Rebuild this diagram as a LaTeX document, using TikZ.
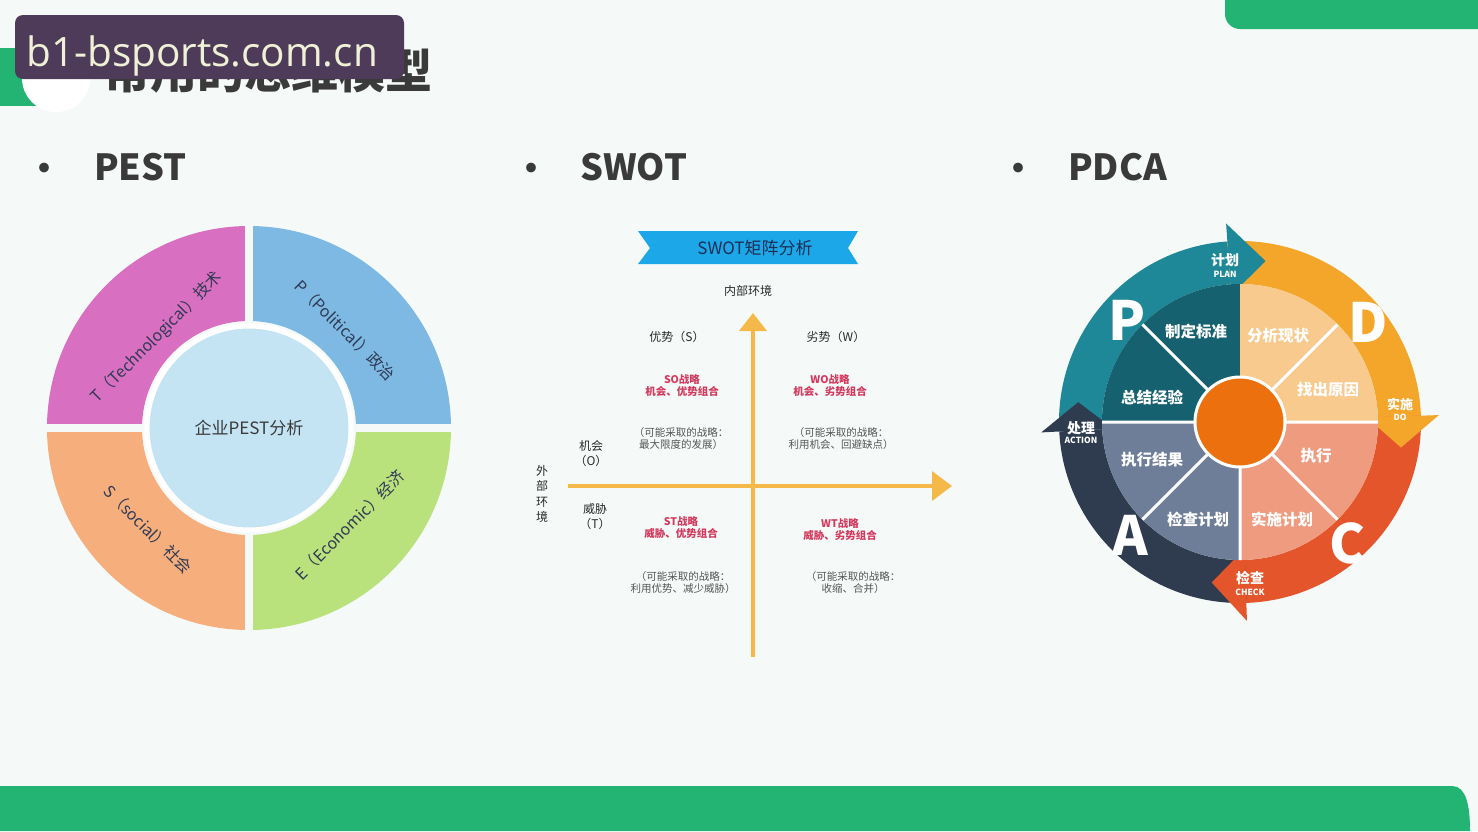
\documentclass[tikz,border=0pt]{standalone}
\usepackage{fontspec}
\setmainfont{Noto Sans CJK SC}
\newfontfamily\wmfont{Open Sans}
\usetikzlibrary{arrows.meta}
\newcommand\fsz[1]{\fontsize{#1}{#1}\selectfont}
\definecolor{bgcol}{HTML}{F5FAF9}
\definecolor{brand}{HTML}{23B473}
\definecolor{wmbg}{HTML}{4E3A59}
\definecolor{wmtx}{HTML}{EFF1D6}
\definecolor{titlecol}{HTML}{3A3A3A}
\definecolor{tcol}{HTML}{D96FC0}
\definecolor{pcol}{HTML}{7EB9E3}
\definecolor{scol}{HTML}{F6AE7D}
\definecolor{ecol}{HTML}{BAE27C}
\definecolor{ccol}{HTML}{C4E3F3}
\definecolor{pesttx}{HTML}{2F3A55}
\definecolor{banner}{HTML}{1CA7E8}
\definecolor{bannertx}{HTML}{1B2F55}
\definecolor{axis}{HTML}{F5B94A}
\definecolor{swred}{HTML}{D43A5E}
\definecolor{swgrey}{HTML}{555555}
\definecolor{swdark}{HTML}{2A2A2A}
\definecolor{pband}{HTML}{1F8898}
\definecolor{dband}{HTML}{F4A62B}
\definecolor{cband}{HTML}{E4552C}
\definecolor{aband}{HTML}{2F3B4E}
\definecolor{ptl}{HTML}{16616F}
\definecolor{ptr}{HTML}{F8CA8E}
\definecolor{pbr}{HTML}{EE9B80}
\definecolor{pbl}{HTML}{6F7E98}
\definecolor{pcore}{HTML}{EC700D}
\begin{document}
\begin{tikzpicture}[x=1pt,y=1pt,
  heading/.style={font=\bfseries\fsz{36}, text=titlecol, anchor=west, inner sep=0},
  bulletdot/.style={font=\fsz{46}, text=titlecol, inner sep=0},
  pesttext/.style={font=\fsz{16}, text=pesttx, inner sep=0},
  swtext/.style={font=\fsz{12}, text=swdark, inner sep=0, align=center},
  swvert/.style={font={\fontsize{12}{15.5}\selectfont}, text=swdark, inner sep=0, align=center},
  swstrat/.style={font=\bfseries\fsz{10.5}, text=swred, inner sep=0, align=center},
  swnote/.style={font=\fsz{10.5}, text=swgrey, inner sep=0, align=center},
  pietext/.style={font=\bfseries\fsz{15.5}, text=white, inner sep=0},
  bigletter/.style={font=\bfseries\fsz{54}, text=white, inner sep=0},
  arrlab/.style={font=\bfseries\fsz{14}, text=white, inner sep=0},
  arrsub/.style={font=\bfseries\fsz{8.5}, text=white, inner sep=0}]
\useasboundingbox (0,0) rectangle (1478,-831);
\fill[bgcol] (0,0) rectangle (1478,-831);
% top right bar
\fill[brand] (1478,0) -- (1225,0) -- (1225,-14) arc[start angle=180, end angle=270, radius=15] -- (1478,-29) -- cycle;
% bottom bar
\fill[brand] (0,-786) -- (1452,-786) .. controls (1466,-786) and (1470,-805) .. (1470,-831) -- (0,-831) -- cycle;
% title decoration
\fill[brand] (0,-48) rectangle (40,-106);
\fill[white] (56,-78) circle[radius=34];
\node[font=\bfseries\fsz{47}, text=titlecol, anchor=west, inner sep=0] (title) at (103,-71) {常用的思维模型};
\node[fill=wmbg, rounded corners=8, minimum width=389, minimum height=64, inner sep=0] (wm) at (209.5,-47) {};
\node[text=wmtx, inner sep=0, font=\wmfont\fsz{40.5}, anchor=base west] (wmt) at (26,-66) {b1-bsports.com.cn};
% headings
\node[bulletdot] (b1) at (44,-174) {•};
\node[heading] (h1) at (94,-167) {PEST};
\node[bulletdot] (b2) at (531,-174) {•};
\node[heading] (h2) at (580,-167) {SWOT};
\node[bulletdot] (b3) at (1018,-174) {•};
\node[heading] (h3) at (1068,-167) {PDCA};
% ---------------- PEST
\begin{scope}[shift={(249,-428)}]
\fill[pcol] (0:202) arc (0:90:202) -- (90:107) arc (90:0:107) -- cycle;
\fill[tcol] (90:202) arc (90:180:202) -- (180:107) arc (180:90:107) -- cycle;
\fill[scol] (180:202) arc (180:270:202) -- (270:107) arc (270:180:107) -- cycle;
\fill[ecol] (270:202) arc (270:360:202) -- (0:107) arc (360:270:107) -- cycle;
\draw[bgcol, line width=8] (-206,0) -- (206,0) (0,-206) -- (0,206);
\node[circle, fill=ccol, draw=white, line width=5, minimum size=204, font=\fsz{17}, text=titlecol] (pestc) at (0,0) {企业PEST分析};
\node[pesttext, rotate=45] (pt) at (135.5:129) {T（Technological）技术};
\node[pesttext, rotate=-45] (pp) at (45.5:137) {P（Political）政治};
\node[pesttext, rotate=-45] (ps) at (225:143) {S（social）社会};
\node[pesttext, rotate=45] (pe) at (-44:140) {E（Economic）经济};
\end{scope}
% ---------------- SWOT
\fill[banner] (638,-231) -- (858,-231) -- (848,-248) -- (858,-264) -- (638,-264) -- (650,-248) -- cycle;
\node[font=\fsz{17}, text=bannertx, inner sep=0] (bt) at (755,-248) {SWOT矩阵分析};
\node[swtext] (inner) at (748,-291) {内部环境};
\coordinate (ybot) at (753,-657);
\coordinate (ytop) at (753,-313);
\coordinate (xl) at (568,-486);
\coordinate (xr) at (952,-486);
\draw[axis, line width=4, -{Triangle[length=18pt, width=27pt]}] (ybot) -- (ytop);
\draw[axis, line width=4, -{Triangle[length=20pt, width=29pt]}] (xl) -- (xr);
\node[swtext] (sS) at (677,-337) {优势（S）};
\node[swtext] (sW) at (836,-337) {劣势（W）};
\node[swstrat] (so) at (682,-385.5) {SO战略\\[2pt]机会、优势组合};
\node[swstrat] (wo) at (830,-385.5) {WO战略\\[2pt]机会、劣势组合};
\node[swnote] (son) at (681,-438.5) {（可能采取的战略：\\[2pt]最大限度的发展）};
\node[swnote] (won) at (841,-438.5) {（可能采取的战略：\\[2pt]利用机会、回避缺点）};
\node[swtext] (oo) at (591,-453.5) {机会\\[3pt]（O）};
\node[swvert] (ext) at (542,-494) {外\\部\\环\\境};
\node[swtext] (tt) at (595,-516.5) {威胁\\[3pt]（T）};
\node[swstrat] (st) at (681,-527.5) {ST战略\\[2pt]威胁、优势组合};
\node[swstrat] (wt) at (840,-529.5) {WT战略\\[2pt]威胁、劣势组合};
\node[swnote] (stn) at (683,-582.5) {（可能采取的战略：\\[2pt]利用优势、减少威胁）};
\node[swnote] (wtn) at (853,-582.5) {（可能采取的战略：\\[2pt]收缩、合并）};
% ---------------- PDCA
\begin{scope}[shift={(1240,-422)}]
\fill[pband] (183:181) arc (183:94:181) -- (94:138) arc (94:183:138) -- cycle;
\fill[dband] (94:181) arc (94:2:181) -- (2:138) arc (2:94:138) -- cycle;
\fill[cband] (2:181) arc (2:-88:181) -- (-88:138) arc (-88:2:138) -- cycle;
\fill[aband] (-88:181) arc (-88:-177:181) -- (-177:138) arc (-177:-88:138) -- cycle;
\fill[pband] (94:199) -- (81:163) -- (94:127) -- cycle;
\fill[dband] (2:199) -- (-9:163) -- (2:127) -- cycle;
\fill[cband] (-88:199) -- (-100:163) -- (-88:127) -- cycle;
\fill[aband] (183:199) -- (173:163) -- (183:127) -- cycle;
\fill[ptl] (0,0) -- (90:138) arc (90:180:138) -- cycle;
\fill[ptr] (0,0) -- (0:138) arc (0:90:138) -- cycle;
\fill[pbr] (0,0) -- (-90:138) arc (-90:0:138) -- cycle;
\fill[pbl] (0,0) -- (180:138) arc (180:270:138) -- cycle;
\draw[white, line width=3] (180:138) -- (0:138) (0,0) -- (-90:138)
  (0,0) -- (135:138) (0,0) -- (45:138) (0,0) -- (-45:138) (0,0) -- (-135:138);
\node[circle, fill=pcore, draw=white, line width=3, minimum size=90, inner sep=0] (core) at (0,0) {};
\node[pietext] (q1) at (-44,90) {制定标准};
\node[pietext] (q2) at (38,86) {分析现状};
\node[pietext] (q3) at (-88,25) {总结经验};
\node[pietext] (q4) at (88,32) {找出原因};
\node[pietext] (q5) at (-88,-38) {执行结果};
\node[pietext] (q6) at (76,-34) {执行};
\node[pietext] (q7) at (-42,-98) {检查计划};
\node[pietext] (q8) at (42,-98) {实施计划};
\node[bigletter] (lp) at (-113,102) {P};
\node[bigletter] (ld) at (128,100) {D};
\node[bigletter] (la) at (-110,-113) {A};
\node[bigletter] (lc) at (107,-121) {C};
\node[arrlab] (a1) at (-15,162) {计划};
\node[arrsub] (a1s) at (-15,148) {PLAN};
\node[arrlab, font=\bfseries\fsz{13}] (a2) at (160,18) {实施};
\node[arrsub] (a2s) at (160,5) {DO};
\node[arrlab] (a3) at (10,-156) {检查};
\node[arrsub] (a3s) at (10,-170) {CHECK};
\node[arrlab] (a4) at (-159,-6) {处理};
\node[arrsub] (a4s) at (-159,-18) {ACTION};
\end{scope}
\end{tikzpicture}
\end{document}
